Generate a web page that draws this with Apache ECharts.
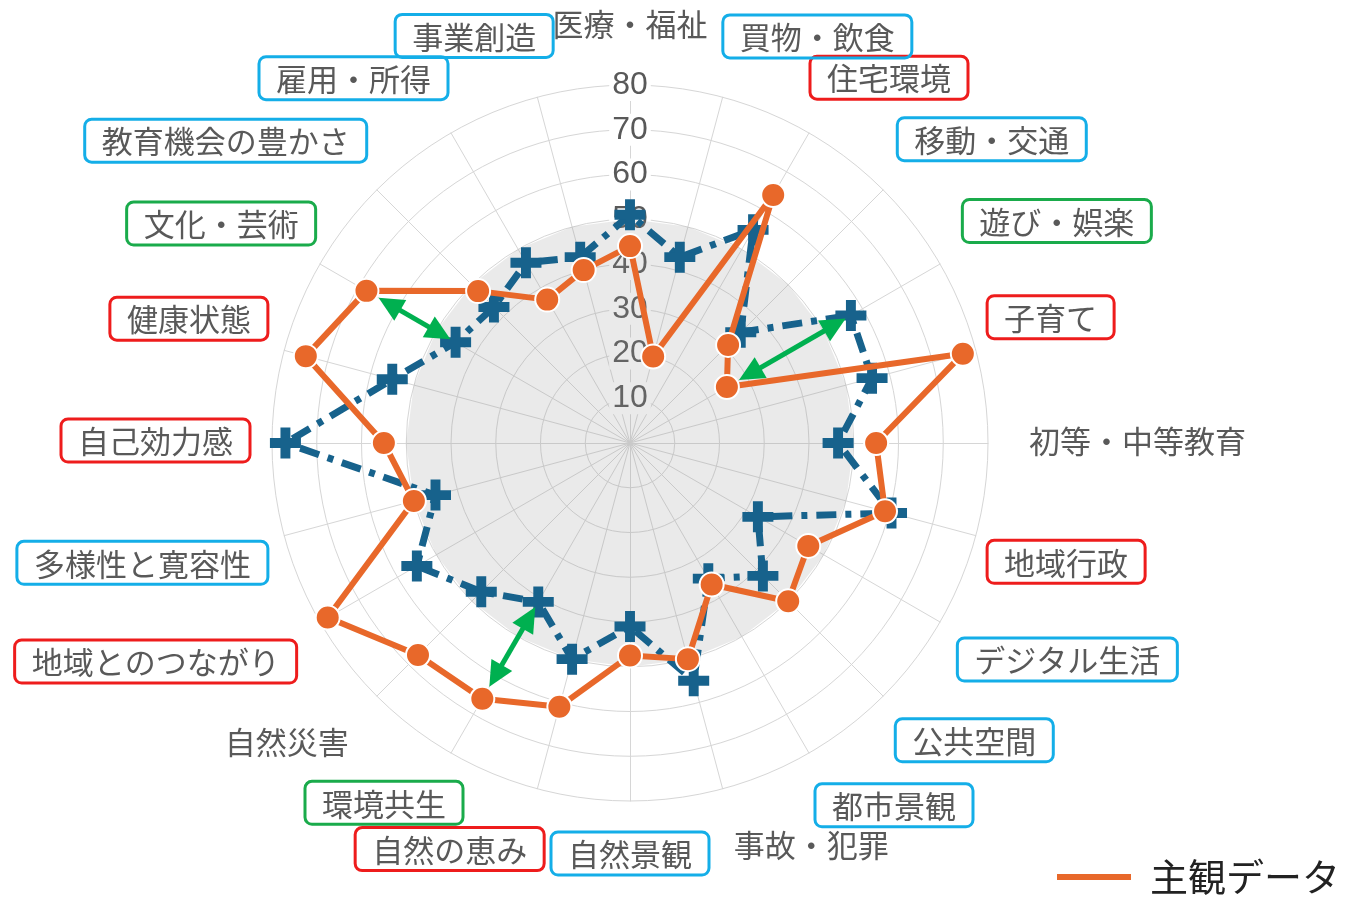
<!DOCTYPE html>
<html>
<head>
<meta charset="utf-8">
<script src="https://cdn.jsdelivr.net/npm/echarts@6/dist/echarts.min.js"></script>
<style>
html,body{margin:0;padding:0;background:#ffffff;}
#chart{width:1345px;height:898px;}
</style>
</head>
<body>
<div id="chart"></div>
<script>
// ---------------- data ----------------
const categories = ['医療・福祉','買物・飲食','住宅環境','移動・交通','遊び・娯楽','子育て','初等・中等教育','地域行政','デジタル生活','公共空間','都市景観','事故・犯罪','自然景観','自然の恵み','環境共生','自然災害','地域とのつながり','多様性と寛容性','自己効力感','健康状態','文化・芸術','教育機会の豊かさ','雇用・所得','事業創造'];
const subjectiveValues = [44, 20, 64, 31, 25, 77, 55, 59, 46, 50, 36.5, 50, 47.5, 61, 66, 67, 78, 50, 55, 75, 68, 48, 37, 40];
const objectiveValues  = [51, 43, 55, 35, 57, 56, 46.5, 60.5, 33, 42, 35, 55, 41, 50, 41, 47, 55, 45, 77, 55, 45, 43, 46.5, 43];
const baselineValues   = [50, 50, 50, 50, 50, 50, 50, 50, 50, 50, 50, 50, 50, 50, 50, 50, 50, 50, 50, 50, 50, 50, 50, 50];
const axisMin = 0;
const axisMax = 80;
const axisStep = 10;
const arrowCategories = ['遊び・娯楽', '環境共生', '文化・芸術'];
const seriesNames = ['主観データ', '客観データ', '基準'];

// ---------------- styles ----------------
const ORANGE = '#e8682a';
const BLUE = '#17628c';
const GREEN = '#00b050';
const TEXT = '#595959';
const boxKind = {
  '買物・飲食':'b','住宅環境':'r','移動・交通':'b','遊び・娯楽':'g','子育て':'r',
  '地域行政':'r','デジタル生活':'b','公共空間':'b','都市景観':'b','自然景観':'b',
  '自然の恵み':'r','環境共生':'g','地域とのつながり':'r','多様性と寛容性':'b',
  '自己効力感':'r','健康状態':'r','文化・芸術':'g','教育機会の豊かさ':'b','雇用・所得':'b','事業創造':'b'
};
// per-label nudges: gap = distance from outer ring, pad = outer (invisible) padding [t,r,b,l]
const labelLayout = {
  '医療・福祉': {gap: 40},
  '買物・飲食': {pad: [0,0,83,-5]},
  '住宅環境': {pad: [0,0,76,-9]},
  '移動・交通': {pad: [0,0,73,0]},
  '遊び・娯楽': {pad: [0,0,66,5]},
  '子育て': {pad: [0,0,56,-8]},
  '初等・中等教育': {pad: [0,0,6,4]},
  '地域行政': {pad: [42,0,0,-8]},
  'デジタル生活': {pad: [55,0,0,0]},
  '公共空間': {pad: [60,0,0,-2]},
  '都市景観': {pad: [70,0,0,-4]},
  '事故・犯罪': {pad: [72,0,0,-11]},
  '自然景観': {gap: 31},
  '自然の恵み': {pad: [82,-12,0,0]},
  '環境共生': {pad: [65,-22,0,0]},
  '自然災害': {pad: [62,-3,0,0]},
  '地域とのつながり': {pad: [59,6,0,0]},
  '多様性と寛容性': {pad: [44,-3,0,0]},
  '自己効力感': {pad: [0,2,5,0]},
  '健康状態': {pad: [0,-3,53,0]},
  '文化・芸術': {pad: [0,-13,61,0]},
  '教育機会の豊かさ': {pad: [0,-4,70,0]},
  '雇用・所得': {pad: [0,-7,75,0]},
  '事業創造': {pad: [0,-21,84,0]}
};

// ECharts radar runs counter-clockwise; reorder so the chart reads clockwise
const order = [0].concat(categories.map((_, i) => i).slice(1).reverse());
const reorder = arr => order.map(i => arr[i]);

const boxBase = {
  color: TEXT, fontSize: 31,
  fontFamily: '"Noto Sans CJK JP", "Noto Sans", sans-serif',
  padding: [7, 17, 5, 17], borderWidth: 3, borderRadius: 7
};

const indicators = order.map((ci, k) => {
  const name = categories[ci];
  const lay = labelLayout[name] || {};
  const ind = { name: name, min: axisMin, max: axisMax, nameGap: lay.gap != null ? lay.gap : 20 };
  if (lay.pad) ind.nameTextStyle = { padding: lay.pad };
  if (k === 0) ind.axisLabel = { show: true };
  return ind;
});

const plusPath = 'path://M3.4,0h3.2v3.4h3.4v3.2h-3.4v3.4h-3.2v-3.4h-3.4v-3.2h3.4z';

const chart = echarts.init(document.getElementById('chart'), null, { renderer: 'canvas' });
const option = {
  animation: false,
  backgroundColor: '#ffffff',
  legend: {
    data: [seriesNames[0]],
    left: 1055, top: 858, padding: 0,
    icon: 'rect', itemWidth: 76, itemHeight: 8,
    textStyle: { fontSize: 38, color: '#222222', padding: [0, 0, 0, 13],
      fontFamily: '"Noto Sans CJK JP", sans-serif' }
  },
  radar: {
    center: [630, 443],
    radius: 358,
    shape: 'circle',
    startAngle: 90,
    splitNumber: (axisMax - axisMin) / axisStep,
    indicator: indicators,
    axisNameGap: 20,
    axisName: {
      color: TEXT,
      fontSize: 31,
      fontFamily: '"Noto Sans CJK JP", "Noto Sans", sans-serif',
      formatter: function (name) {
        const k = boxKind[name];
        return '{' + (k || 'n') + '|' + name + '}';
      },
      rich: {
        n: Object.assign({}, boxBase, { borderWidth: 0 }),
        b: Object.assign({}, boxBase, { borderColor: '#14aee8' }),
        r: Object.assign({}, boxBase, { borderColor: '#ee1c1c' }),
        g: Object.assign({}, boxBase, { borderColor: '#1aab4b' })
      }
    },
    axisLine: { lineStyle: { color: '#d6d6d6', width: 1 } },
    splitLine: { lineStyle: { color: '#d6d6d6', width: 1 } },
    splitArea: { show: false },
    axisTick: { show: false },
    axisLabel: {
      show: false,
      showMinLabel: false,
      margin: 0,
      align: 'center',
      color: TEXT,
      fontSize: 32,
      fontFamily: '"Liberation Sans", Arial, sans-serif',
      backgroundColor: '#ffffff',
      padding: [0, 3]
    }
  },
  series: [
    {
      type: 'radar',
      name: seriesNames[2],
      silent: true,
      symbol: 'none',
      lineStyle: { width: 0, opacity: 0 },
      areaStyle: { color: 'rgba(150,150,150,0.28)' },
      data: [{ value: reorder(baselineValues), name: seriesNames[2] }],
      z: 1
    },
    {
      type: 'radar',
      name: seriesNames[1],
      symbol: plusPath,
      symbolSize: 31,
      itemStyle: { color: BLUE },
      lineStyle: { color: BLUE, width: 7, type: [20, 9, 6, 9] },
      data: [{ value: reorder(objectiveValues), name: seriesNames[1] }],
      z: 3
    },
    {
      type: 'radar',
      name: seriesNames[0],
      symbol: 'circle',
      symbolSize: 24,
      itemStyle: { color: ORANGE, borderColor: '#ffffff', borderWidth: 2 },
      lineStyle: { color: ORANGE, width: 6 },
      data: [{ value: reorder(subjectiveValues), name: seriesNames[0] }],
      z: 4
    }
  ]
};
chart.setOption(option);

// ---------------- green double arrows (positions from the radar coordinate system) ----------------
function pointOf(catIndex, value) {
  const k = order.indexOf(catIndex);
  try {
    const cs = chart.getModel().getComponent('radar').coordinateSystem;
    return cs.dataToPoint(value, k);
  } catch (e) {
    const ang = catIndex * 2 * Math.PI / categories.length;
    const r = 358 * value / axisMax;
    return [630 + r * Math.sin(ang), 443 - r * Math.cos(ang)];
  }
}
function arrow(p1, p2) {
  const dx = p2[0] - p1[0], dy = p2[1] - p1[1], L = Math.hypot(dx, dy);
  const ux = dx / L, uy = dy / L, nx = -uy, ny = ux;
  const a = [p1[0] + ux * 14, p1[1] + uy * 14];
  const b = [p2[0] - ux * 6, p2[1] - uy * 6];
  const H = 25, W = 12;
  const head = (t, d) => [[t[0], t[1]],
    [t[0] - d * ux * H + nx * W, t[1] - d * uy * H + ny * W],
    [t[0] - d * ux * H - nx * W, t[1] - d * uy * H - ny * W]];
  return [
    { type: 'line', z: 100, shape: { x1: a[0] + ux * H * 0.8, y1: a[1] + uy * H * 0.8, x2: b[0] - ux * H * 0.8, y2: b[1] - uy * H * 0.8 },
      style: { stroke: GREEN, lineWidth: 5 } },
    { type: 'polygon', z: 100, shape: { points: head(a, -1) }, style: { fill: GREEN } },
    { type: 'polygon', z: 100, shape: { points: head(b, 1) }, style: { fill: GREEN } }
  ];
}
let arrowEls = [];
arrowCategories.forEach(name => {
  const ci = categories.indexOf(name);
  arrowEls = arrowEls.concat(arrow(pointOf(ci, subjectiveValues[ci]), pointOf(ci, objectiveValues[ci])));
});
chart.setOption({ graphic: { elements: arrowEls } });
</script>
</body>
</html>
